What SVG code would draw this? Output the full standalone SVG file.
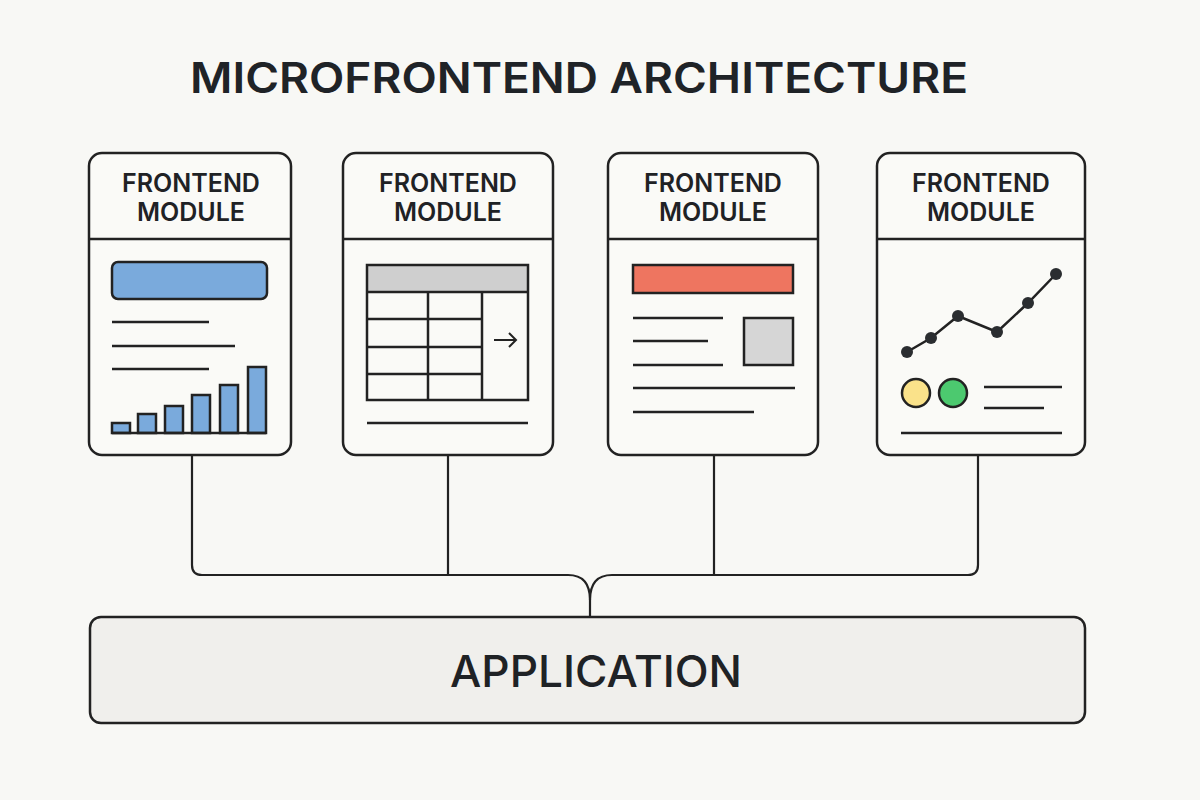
<svg xmlns="http://www.w3.org/2000/svg" width="1200" height="800" viewBox="0 0 1200 800">
<defs>
<style>
.card{fill:#fafaf7;stroke:#222;stroke-width:2.5}
.div{stroke:#222;stroke-width:2.5}
.ln{stroke:#222;stroke-width:2.5;fill:none;stroke-linecap:butt}
.lbl{font-family:Inter,"Liberation Sans",sans-serif;font-weight:600;font-size:25px;fill:#1f2225;text-anchor:middle}
.conn{stroke:#222;stroke-width:2.2;fill:none}
.dot{fill:#2a2d30}
</style>
</defs>
<rect width="1200" height="800" fill="#f8f8f5"/>
<text x="579" y="93" font-family="Inter,'Liberation Sans',sans-serif" font-weight="600" font-size="42" fill="#1f2327" text-anchor="middle" textLength="778" lengthAdjust="spacingAndGlyphs">MICROFRONTEND ARCHITECTURE</text>

<g id="connectors">
<path class="conn" d="M192 455 V565 Q192 575 202 575 H568 Q590 575 590 600 V617"/>
<path class="conn" d="M978 455 V565 Q978 575 968 575 H612 Q590 575 590 600"/>
<path class="conn" d="M448 455 V575"/>
<path class="conn" d="M714 455 V575"/>
</g>

<g id="module1">
<rect class="card" x="89" y="153" width="202" height="302" rx="13"/>
<line class="div" x1="89" y1="239" x2="291" y2="239"/>
<text class="lbl" x="191" y="192">FRONTEND</text>
<text class="lbl" x="191" y="221">MODULE</text>
<rect x="112" y="262" width="155" height="37" rx="6" fill="#7aaadc" stroke="#222" stroke-width="2.5"/>
<line class="ln" x1="112" y1="322" x2="209" y2="322"/>
<line class="ln" x1="112" y1="346" x2="235" y2="346"/>
<line class="ln" x1="112" y1="369" x2="209" y2="369"/>
<g fill="#7aaadc" stroke="#222" stroke-width="2.5">
<rect x="112" y="423" width="18" height="10"/>
<rect x="138" y="414" width="18" height="19"/>
<rect x="165" y="406" width="18" height="27"/>
<rect x="192" y="395" width="18" height="38"/>
<rect x="220" y="385" width="18" height="48"/>
<rect x="248" y="367" width="18" height="66"/>
</g>
<line class="ln" x1="112" y1="433" x2="266" y2="433"/>
</g>

<g id="module2">
<rect class="card" x="343" y="153" width="210" height="302" rx="13"/>
<line class="div" x1="343" y1="239" x2="553" y2="239"/>
<text class="lbl" x="448" y="192">FRONTEND</text>
<text class="lbl" x="448" y="221">MODULE</text>
<rect x="367" y="265" width="161" height="27" fill="#cfcfcf"/>
<rect x="367" y="265" width="161" height="135" fill="none" stroke="#222" stroke-width="2.5"/>
<line class="ln" x1="367" y1="292" x2="528" y2="292"/>
<line class="ln" x1="428" y1="292" x2="428" y2="400"/>
<line class="ln" x1="482" y1="292" x2="482" y2="400"/>
<line class="ln" x1="367" y1="319" x2="482" y2="319"/>
<line class="ln" x1="367" y1="347" x2="482" y2="347"/>
<line class="ln" x1="367" y1="374" x2="482" y2="374"/>
<path d="M494 340 H516 M509 333 L516 340 L509 347" fill="none" stroke="#222" stroke-width="2"/>
<line class="ln" x1="367" y1="423" x2="528" y2="423"/>
</g>

<g id="module3">
<rect class="card" x="608" y="153" width="210" height="302" rx="13"/>
<line class="div" x1="608" y1="239" x2="818" y2="239"/>
<text class="lbl" x="713" y="192">FRONTEND</text>
<text class="lbl" x="713" y="221">MODULE</text>
<rect x="633" y="265" width="160" height="28" fill="#ee7560" stroke="#222" stroke-width="2.5"/>
<line class="ln" x1="633" y1="318" x2="723" y2="318"/>
<line class="ln" x1="633" y1="341" x2="708" y2="341"/>
<line class="ln" x1="633" y1="365" x2="723" y2="365"/>
<rect x="744" y="318" width="49" height="47" fill="#d6d6d6" stroke="#222" stroke-width="2.5"/>
<line class="ln" x1="633" y1="388" x2="795" y2="388"/>
<line class="ln" x1="633" y1="412" x2="754" y2="412"/>
</g>

<g id="module4">
<rect class="card" x="877" y="153" width="208" height="302" rx="13"/>
<line class="div" x1="877" y1="239" x2="1085" y2="239"/>
<text class="lbl" x="981" y="192">FRONTEND</text>
<text class="lbl" x="981" y="221">MODULE</text>
<polyline points="907,352 931,338 958,316 997,332 1028,303 1056,274" fill="none" stroke="#222" stroke-width="2.5"/>
<circle class="dot" cx="907" cy="352" r="6"/>
<circle class="dot" cx="931" cy="338" r="6"/>
<circle class="dot" cx="958" cy="316" r="6"/>
<circle class="dot" cx="997" cy="332" r="6"/>
<circle class="dot" cx="1028" cy="303" r="6"/>
<circle class="dot" cx="1056" cy="274" r="6"/>
<circle cx="916" cy="393" r="14" fill="#fae28a" stroke="#222" stroke-width="2.5"/>
<circle cx="953" cy="393" r="14" fill="#4cc96f" stroke="#222" stroke-width="2.5"/>
<line class="ln" x1="984" y1="387" x2="1062" y2="387"/>
<line class="ln" x1="984" y1="408" x2="1044" y2="408"/>
<line class="ln" x1="901" y1="433" x2="1062" y2="433"/>
</g>

<g id="application">
<rect x="90" y="617" width="995" height="106" rx="11" fill="#f0efec" stroke="#222" stroke-width="2.5"/>
<text x="596" y="687" font-family="Inter,'Liberation Sans',sans-serif" font-weight="500" font-size="44" fill="#1f2225" text-anchor="middle" textLength="292" lengthAdjust="spacingAndGlyphs">APPLICATION</text>
</g>
</svg>
